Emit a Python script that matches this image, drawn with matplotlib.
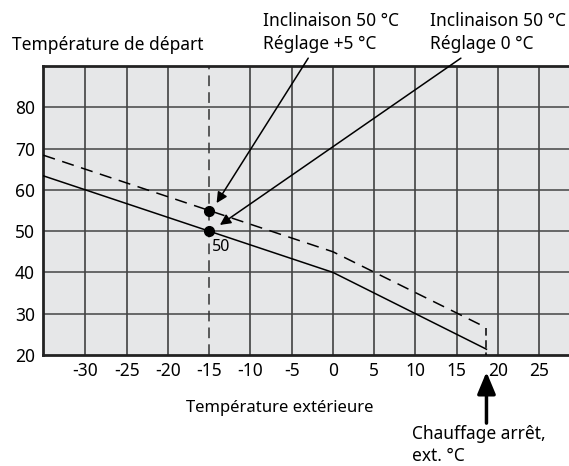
"""
Heating curve chart: flow temperature vs outdoor temperature.
"""

import matplotlib

matplotlib.use("Agg")
import matplotlib.pyplot as plt

plt.rcParams["font.family"] = ["Noto Sans", "DejaVu Sans"]

# curve break points (outdoor temp, flow temp)
outdoor = [-35.1, -15, 0, 18.6]
flow_setting_0 = [63.4, 50, 40, 21.4]
flow_setting_5 = [68.4, 55, 45, 26.6]
cutoff_temp = 18.6
design_temp = -15
marker_temps = [55, 50]

x_ticks = [-30, -25, -20, -15, -10, -5, 0, 5, 10, 15, 20, 25]
y_ticks = [20, 30, 40, 50, 60, 70, 80]

labels_top = ["Inclinaison 50 °C\nRéglage +5 °C", "Inclinaison 50 °C\nRéglage 0 °C"]
# arrow start (above plot) and tip, in data units
arrow_starts = [(-3.0, 91.9), (15.5, 91.9)]
arrow_tips = [(-14.1, 56.8), (-13.7, 51.5)]

W, H = 569, 466
fig = plt.figure(figsize=(W / 100, H / 100), dpi=100)
ax = fig.add_axes([43.3 / W, 1 - 355 / H, 1 - 43.3 / W, 289 / H])
ax.set_facecolor("#e6e7e8")
ax.set_xlim(-35.1, 28.6)
ax.set_ylim(20, 90)

# grid
for x in x_ticks:
    if x == design_temp:
        continue
    ax.axvline(x, color="#333333", lw=1.1, zorder=1)
for y in y_ticks[1:]:
    ax.axhline(y, color="#444444", lw=1.1, zorder=1)
ax.axvline(design_temp, color="#333333", lw=1.1, ls=(0, (7, 4)), zorder=2)

# curves
ax.plot(outdoor, flow_setting_0, color="black", lw=1.1, zorder=3)
ax.plot(outdoor, flow_setting_5, color="black", lw=1.1, ls=(0, (8, 5)), zorder=3)
ax.plot([cutoff_temp, cutoff_temp], [flow_setting_5[-1], 20],
        color="black", lw=1.1, ls=(0, (5, 3)), zorder=3)
ax.plot([design_temp] * 2, marker_temps, "o", color="black", ms=7, zorder=4)
ax.text(-14.65, 46.2, "50", fontsize=11.5, va="center", ha="left")

for spine in ["left", "bottom", "top"]:
    ax.spines[spine].set_linewidth(2)
    ax.spines[spine].set_color("#222222")
ax.spines["right"].set_visible(False)

ax.set_xticks(x_ticks)
ax.set_xticklabels([str(v) for v in x_ticks])
ax.set_yticks(y_ticks)
ax.tick_params(length=0, labelsize=12.5, pad=6)
ax.tick_params(axis="x", pad=5)

for label, start, tip in zip(labels_top, arrow_starts, arrow_tips):
    ax.annotate("", xy=tip, xytext=start, annotation_clip=False,
                arrowprops=dict(arrowstyle="-|>", color="black", lw=1.1,
                                mutation_scale=16, shrinkA=0, shrinkB=0))

fig.text(263 / W, 1 - 32.5 / H, labels_top[0], fontsize=12.5, va="center",
         ha="left", linespacing=1.35)
fig.text(430 / W, 1 - 32.5 / H, labels_top[1], fontsize=12.5, va="center",
         ha="left", linespacing=1.35)
fig.text(12 / W, 1 - 45 / H, "Température de départ", fontsize=12.5,
         va="center", ha="left")
fig.text(280 / W, 1 - 408 / H, "Température extérieure", fontsize=12,
         va="center", ha="center")
fig.text(412 / W, 1 - 445 / H, "Chauffage arrêt,\next. °C", fontsize=12.5,
         va="center", ha="left", linespacing=1.35)

ax.annotate("", xy=(cutoff_temp, 15.9), xytext=(cutoff_temp, 3.5),
            annotation_clip=False,
            arrowprops=dict(arrowstyle="-|>,head_length=0.6,head_width=0.25",
                            color="black", lw=2.5,
                            mutation_scale=22, shrinkA=0, shrinkB=0))

fig.savefig("out.png", dpi=100)
